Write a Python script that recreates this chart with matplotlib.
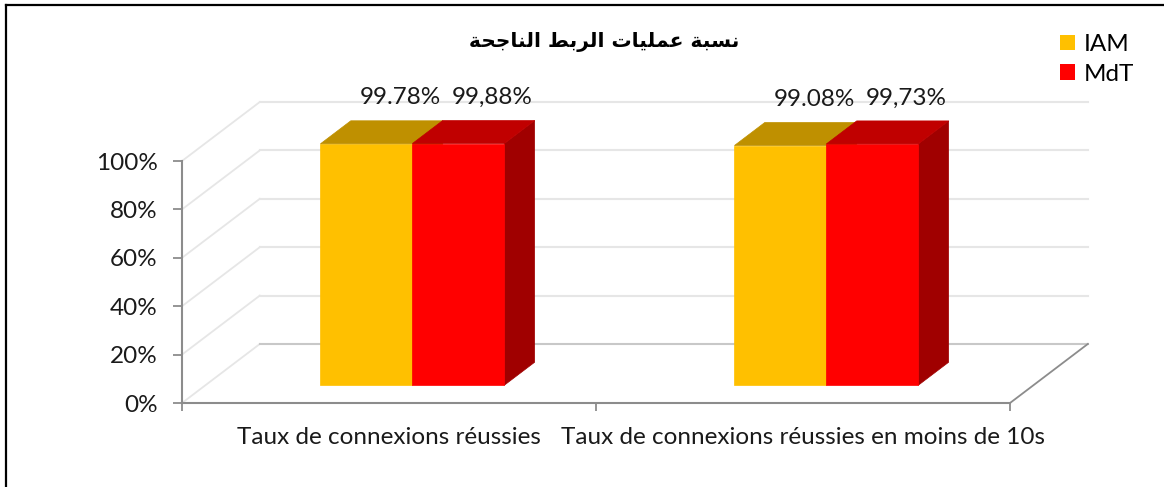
"""Success rate of connections, IAM vs MdT (pseudo 3D column chart)."""

import matplotlib
import matplotlib.pyplot as plt
from matplotlib.lines import Line2D
from matplotlib.patches import Patch, Polygon

matplotlib.use("Agg")

# ---- data ----
categories = ["Taux de connexions réussies",
              "Taux de connexions réussies en moins de 10s"]
series_names = ["IAM", "MdT"]
values = {
    "IAM": [0.9978, 0.9908],
    "MdT": [0.9988, 0.9973],
}
value_labels = {
    "IAM": ["99.78%", "99.08%"],
    "MdT": ["99,88%", "99,73%"],
}
y_ticks = [0.0, 0.2, 0.4, 0.6, 0.8, 1.0]
y_tick_labels = ["0%", "20%", "40%", "60%", "80%", "100%"]
title = "نسبة عمليات الربط الناجحة"

# ---- style ----
FRONT = {"IAM": "#FFC000", "MdT": "#FF0000"}
TOP = {"IAM": "#BF9000", "MdT": "#C00000"}
SIDE = {"IAM": "#A67C00", "MdT": "#A00000"}
AXIS_GRAY = "#8C8C8C"
GRID_GRAY = "#E6E6E6"
FONT = "Lato"
FS = 17.5

# oblique depth offset of the whole floor, in data units
DEPTH_DX = 0.188
DEPTH_DY = 0.244
BAR_W = 0.222
BAR_D0, BAR_D1 = 0.30, 0.69

# ---- minimal Arabic shaping (matplotlib has no bidi / joining) ----
_FORMS = {  # isolated, final, initial, medial
    "ا": ("\uFE8D", "\uFE8E", None, None),
    "ب": ("\uFE8F", "\uFE90", "\uFE91", "\uFE92"),
    "ة": ("\uFE93", "\uFE94", None, None),
    "ت": ("\uFE95", "\uFE96", "\uFE97", "\uFE98"),
    "ج": ("\uFE9D", "\uFE9E", "\uFE9F", "\uFEA0"),
    "ح": ("\uFEA1", "\uFEA2", "\uFEA3", "\uFEA4"),
    "ر": ("\uFEAD", "\uFEAE", None, None),
    "س": ("\uFEB1", "\uFEB2", "\uFEB3", "\uFEB4"),
    "ط": ("\uFEC1", "\uFEC2", "\uFEC3", "\uFEC4"),
    "ع": ("\uFEC9", "\uFECA", "\uFECB", "\uFECC"),
    "ل": ("\uFEDD", "\uFEDE", "\uFEDF", "\uFEE0"),
    "م": ("\uFEE1", "\uFEE2", "\uFEE3", "\uFEE4"),
    "ن": ("\uFEE5", "\uFEE6", "\uFEE7", "\uFEE8"),
    "ي": ("\uFEF1", "\uFEF2", "\uFEF3", "\uFEF4"),
}


def shape_arabic(text):
    out = []
    for k, ch in enumerate(text):
        if ch not in _FORMS:
            out.append(ch)
            continue
        prev = text[k - 1] if k > 0 else ""
        nxt = text[k + 1] if k + 1 < len(text) else ""
        join_prev = prev in _FORMS and _FORMS[prev][2] is not None
        join_next = nxt in _FORMS and _FORMS[ch][2] is not None
        iso, fin, ini, med = _FORMS[ch]
        if join_prev and join_next:
            out.append(med)
        elif join_prev:
            out.append(fin)
        elif join_next:
            out.append(ini)
        else:
            out.append(iso)
    return "".join(out)[::-1]


def proj(x, y, d):
    return x + d * DEPTH_DX, y + d * DEPTH_DY


fig = plt.figure(figsize=(11.64, 4.87), dpi=100)
ax = fig.add_axes([182 / 1164, 84 / 487, 828 / 1164, 242 / 487])
n = len(categories)
x0, x1 = -0.5, n - 0.5
ax.set_xlim(x0, x1)
ax.set_ylim(0, 1)
ax.set_facecolor("none")

# back wall gridlines and left wall diagonals
for v in y_ticks:
    (ax_, ay_), (bx_, by_) = proj(x0, v, 0), proj(x0, v, 1)
    ax.plot([ax_, bx_], [ay_, by_], color=GRID_GRAY, lw=1.3,
            clip_on=False, zorder=1)
    (cx_, cy_), (dx_, dy_) = proj(x0, v, 1), proj(x1, v, 1)
    ax.plot([cx_, dx_], [cy_, dy_],
            color="#C8C8C8" if v == 0 else GRID_GRAY,
            lw=1.5, clip_on=False, zorder=1)
# right edge of the floor
(rx0, ry0), (rx1, ry1) = proj(x1, 0, 0), proj(x1, 0, 1)
ax.plot([rx0, rx1], [ry0, ry1], color=AXIS_GRAY, lw=1.3,
        clip_on=False, zorder=1)

# bars
for j, name in enumerate(series_names):
    for i, val in enumerate(values[name]):
        left = i - BAR_W + j * BAR_W
        right = left + BAR_W
        front = [proj(left, 0, BAR_D0), proj(right, 0, BAR_D0),
                 proj(right, val, BAR_D0), proj(left, val, BAR_D0)]
        top = [proj(left, val, BAR_D0), proj(right, val, BAR_D0),
               proj(right, val, BAR_D1), proj(left, val, BAR_D1)]
        side = [proj(right, 0, BAR_D0), proj(right, 0, BAR_D1),
                proj(right, val, BAR_D1), proj(right, val, BAR_D0)]
        z = 3 + j
        for pts, col in ((side, SIDE[name]), (front, FRONT[name]),
                         (top, TOP[name])):
            ax.add_patch(Polygon(pts, closed=True, facecolor=col,
                                 edgecolor=col, lw=0.5, clip_on=False,
                                 zorder=z))
        lx, ly = proj((left + right) / 2, val, BAR_D1)
        ax.annotate(value_labels[name][i], (lx, ly), xytext=(4, 23),
                    textcoords="offset pixels", ha="center", va="center",
                    fontsize=FS, family=FONT, color="#1A1A1A",
                    annotation_clip=False, zorder=10)

# axes: only the front left and front floor lines
for s in ("top", "right"):
    ax.spines[s].set_visible(False)
for s in ("left", "bottom"):
    ax.spines[s].set_color(AXIS_GRAY)
    ax.spines[s].set_linewidth(1.5)
ax.set_yticks(y_ticks)
ax.set_yticklabels(y_tick_labels, family=FONT, fontsize=FS)
ax.set_xticks([x0 + k for k in range(n + 1)])
ax.set_xticklabels([])
ax.set_xticks(range(n), minor=True)
ax.set_xticklabels(categories, minor=True, family=FONT, fontsize=FS)
ax.tick_params(axis="y", length=6.5, width=1.3, color=AXIS_GRAY, pad=11,
               labelcolor="#1A1A1A")
ax.tick_params(axis="x", which="major", length=6, width=1.3,
               color=AXIS_GRAY)
ax.tick_params(axis="x", which="minor", length=0, pad=17,
               labelcolor="#1A1A1A")

fig.text(604 / 1164, 1 - 42 / 487, shape_arabic(title), ha="center",
         va="center", fontsize=14.5, fontweight="bold", family="DejaVu Sans")

handles = [Patch(facecolor=FRONT[nm], edgecolor="none", label=nm)
           for nm in series_names]
fig.legend(handles=handles, loc="upper left",
           bbox_to_anchor=(1048 / 1164, 1 - 22 / 487), frameon=False,
           prop={"family": FONT, "size": FS}, handlelength=0.62,
           handleheight=0.62, handletextpad=0.35, labelspacing=0.35,
           borderpad=0)

# outer frame (top and left edges visible in the original crop)
fig.add_artist(Line2D([6 / 1164, 1], [1 - 5 / 487, 1 - 5 / 487],
                      color="black", lw=1.6, transform=fig.transFigure))
fig.add_artist(Line2D([6 / 1164, 6 / 1164], [0, 1 - 5 / 487],
                      color="black", lw=1.6, transform=fig.transFigure))

fig.savefig("out.png", dpi=100)
plt.close(fig)
